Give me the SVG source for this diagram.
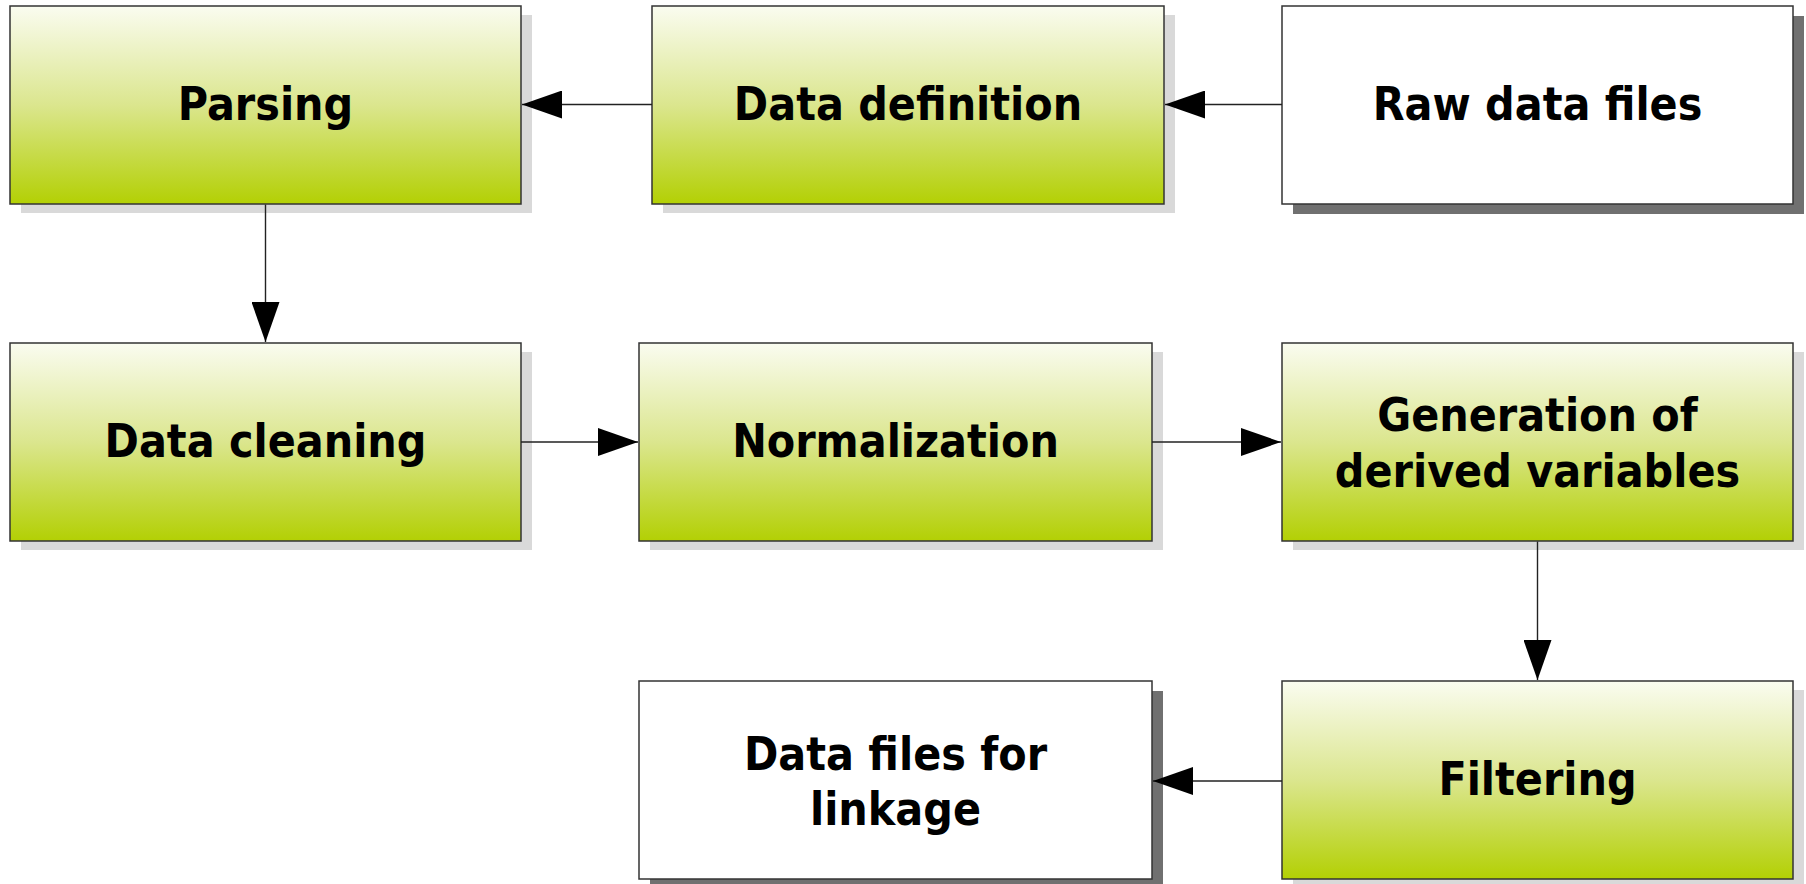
<svg xmlns="http://www.w3.org/2000/svg" width="1806" height="884" viewBox="0 0 1806 884">
  <defs>
    <linearGradient id="greenFill" x1="0" y1="0" x2="0" y2="1">
      <stop offset="0" stop-color="#fafcf0"/>
      <stop offset="0.5" stop-color="#dbe68e"/>
      <stop offset="1" stop-color="#b3d004"/>
    </linearGradient>
    <marker id="arrow" viewBox="0 0 40 28" refX="40" refY="14" markerWidth="40" markerHeight="28" markerUnits="userSpaceOnUse" orient="auto">
      <path d="M0,0 L40,14 L0,28 Z" fill="#000"/>
    </marker>
  </defs>
  <style>
    .box { stroke: #333; stroke-width: 1.5; }
    .step { fill: url(#greenFill); }
    .io { fill: #fff; }
    .shadow-light { fill: #d9d9d9; }
    .shadow-dark { fill: #707070; }
    .label { font-family: "DejaVu Sans Condensed", "DejaVu Sans", "Liberation Sans", sans-serif; font-stretch: condensed; font-weight: bold; font-size: 46px; fill: #000; text-anchor: middle; }
    .edge { stroke: #222; stroke-width: 1.4; fill: none; marker-end: url(#arrow); }
  </style>

  <rect width="1806" height="884" fill="#fff"/>

  <!-- nodes -->
  <g id="raw-data-files">
    <rect class="shadow-dark" x="1293" y="16" width="511" height="198"/>
    <rect class="box io" x="1282" y="6" width="511" height="198"/>
    <text class="label" x="1537.5" y="120">Raw data files</text>
  </g>

  <g id="data-definition">
    <rect class="shadow-light" x="663" y="15" width="512" height="198"/>
    <rect class="box step" x="652" y="6" width="512" height="198"/>
    <text class="label" x="908" y="120">Data definition</text>
  </g>

  <g id="parsing">
    <rect class="shadow-light" x="21" y="15" width="511" height="198"/>
    <rect class="box step" x="10" y="6" width="511" height="198"/>
    <text class="label" x="265.5" y="120">Parsing</text>
  </g>

  <g id="data-cleaning">
    <rect class="shadow-light" x="21" y="352" width="511" height="198"/>
    <rect class="box step" x="10" y="343" width="511" height="198"/>
    <text class="label" x="265.5" y="457">Data cleaning</text>
  </g>

  <g id="normalization">
    <rect class="shadow-light" x="650" y="352" width="513" height="198"/>
    <rect class="box step" x="639" y="343" width="513" height="198"/>
    <text class="label" x="895.5" y="457">Normalization</text>
  </g>

  <g id="derived-variables">
    <rect class="shadow-light" x="1293" y="352" width="511" height="198"/>
    <rect class="box step" x="1282" y="343" width="511" height="198"/>
    <text class="label" x="1537.5" y="431">Generation of</text>
    <text class="label" x="1537.5" y="487">derived variables</text>
  </g>

  <g id="filtering">
    <rect class="shadow-light" x="1293" y="690" width="511" height="198"/>
    <rect class="box step" x="1282" y="681" width="511" height="198"/>
    <text class="label" x="1537.5" y="795">Filtering</text>
  </g>

  <g id="data-files-for-linkage">
    <rect class="shadow-dark" x="650" y="691" width="513" height="198"/>
    <rect class="box io" x="639" y="681" width="513" height="198"/>
    <text class="label" x="895.5" y="770">Data files for</text>
    <text class="label" x="895.5" y="825">linkage</text>
  </g>

  <!-- connectors, drawn over the node shadows -->
  <g id="connectors">
    <line class="edge" x1="1282" y1="104.5" x2="1165" y2="104.5"/>
    <line class="edge" x1="652" y1="104.5" x2="522" y2="104.5"/>
    <line class="edge" x1="265.5" y1="204.5" x2="265.5" y2="342"/>
    <line class="edge" x1="521" y1="442" x2="638" y2="442"/>
    <line class="edge" x1="1152" y1="442" x2="1281" y2="442"/>
    <line class="edge" x1="1537.5" y1="541.5" x2="1537.5" y2="680"/>
    <line class="edge" x1="1282" y1="781" x2="1153" y2="781"/>
  </g>
</svg>
